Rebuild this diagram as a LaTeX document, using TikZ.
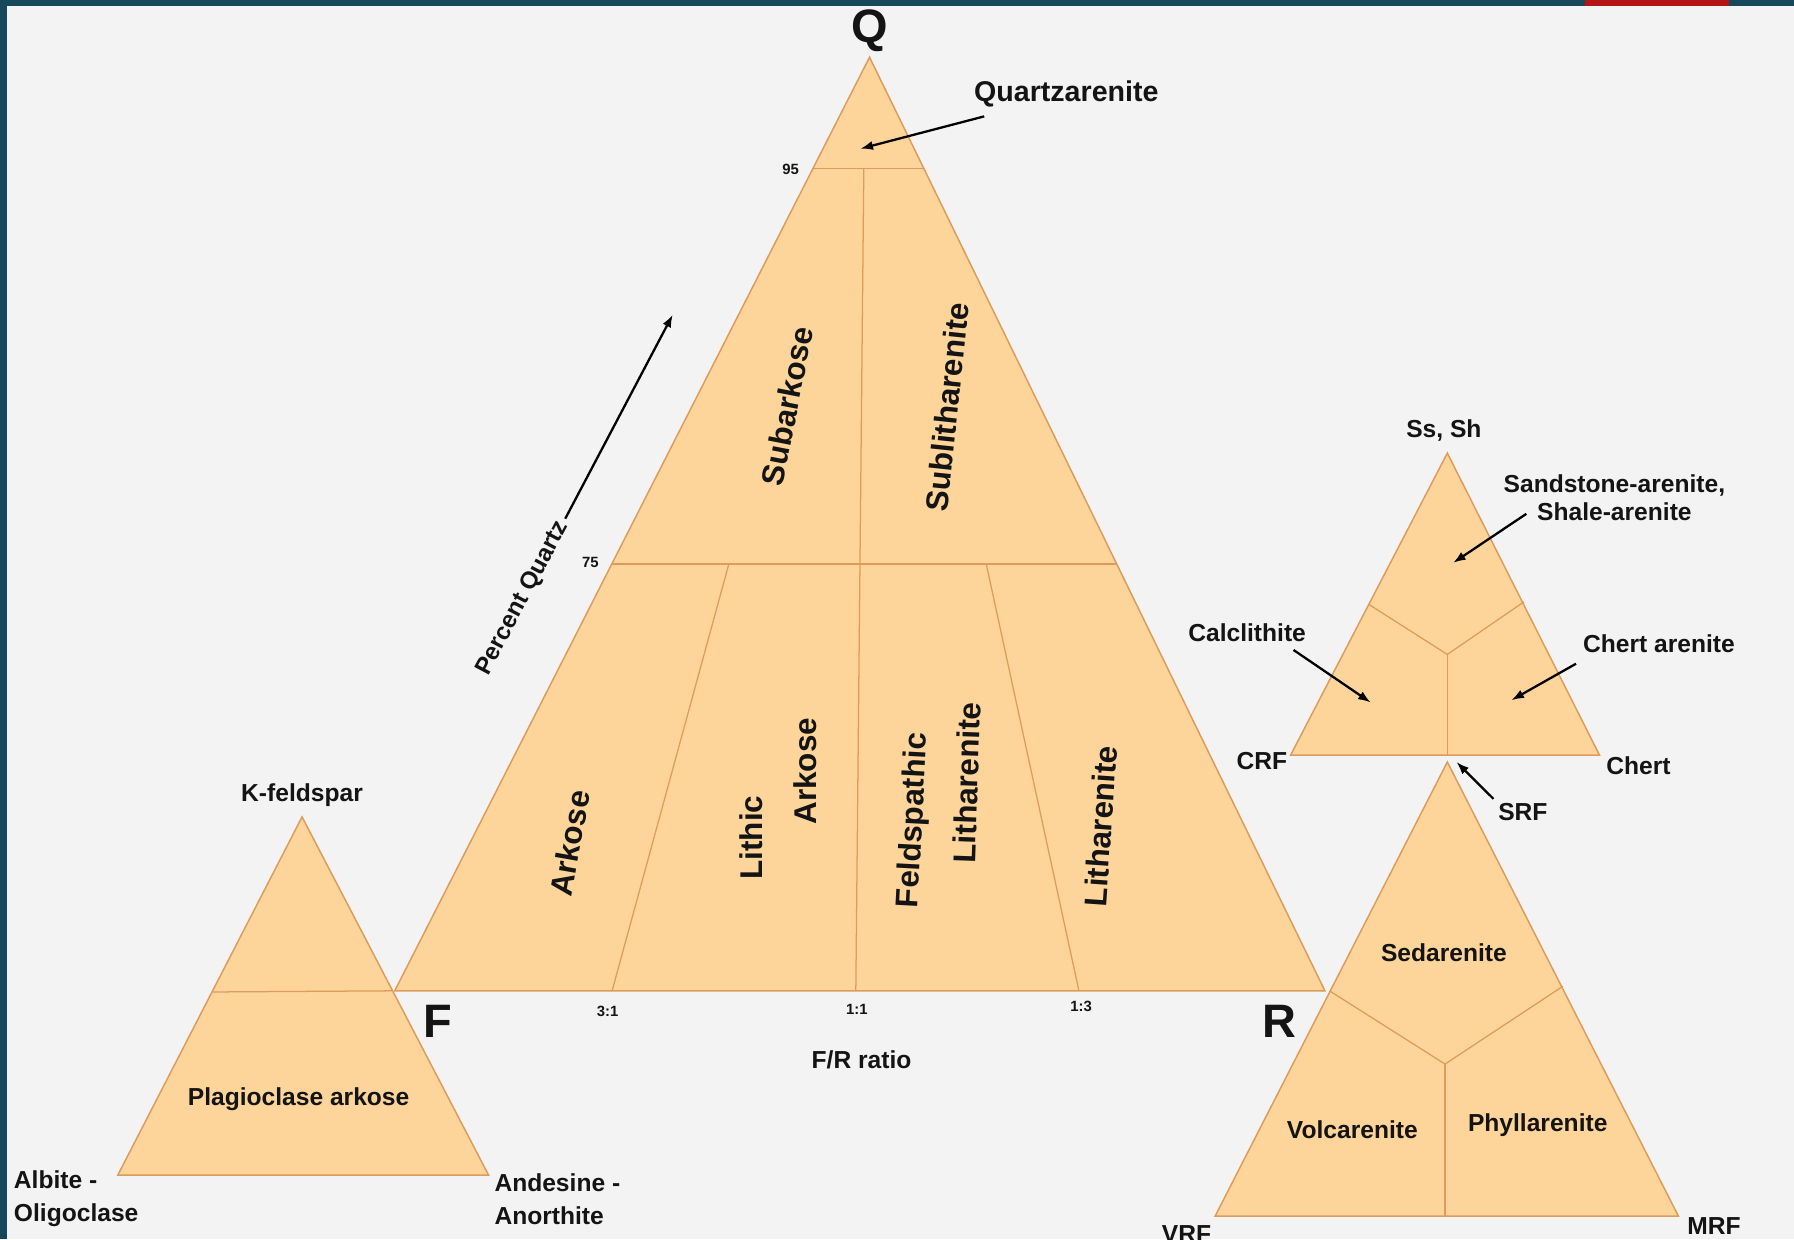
\documentclass[tikz,border=0pt]{standalone}
\usepackage{fontspec}
\setmainfont{Liberation Sans}
\usetikzlibrary{arrows.meta}
\definecolor{fillc}{HTML}{FDD59B}
\definecolor{edgec}{HTML}{DE9C5C}
\definecolor{bgc}{HTML}{F3F3F3}
\definecolor{bandc}{HTML}{17475A}
\definecolor{redc}{HTML}{B41414}
\definecolor{txt}{HTML}{141414}
\tikzset{
  tri/.style={fill=fillc, draw=edgec, line width=1.3pt, line join=miter},
  divline/.style={draw=edgec, line width=1.1pt},
  lab/.style={text=txt, inner sep=0pt, font=\bfseries\fontsize{21.5}{24}\selectfont},
  rlab/.style={text=txt, inner sep=0pt, font=\bfseries\fontsize{27.5}{30}\selectfont},
  corner/.style={text=txt, inner sep=0pt, font=\bfseries\fontsize{41}{44}\selectfont},
  tick/.style={text=txt, inner sep=0pt, font=\bfseries\fontsize{13}{15}\selectfont},
  pointer/.style={-{Latex[length=11pt,width=8pt]}, line width=2pt, draw=black},
}
\begin{document}
\begin{tikzpicture}[x=1pt,y=-1pt]
% background
\useasboundingbox (0,0) rectangle (1568,1083);
\fill[bgc] (0,0) rectangle (1568,1083);
\fill[bandc] (0,0) rectangle (6.5,1083);
\fill[bandc] (0,0) rectangle (1568,5);
\fill[redc] (1385,0) rectangle (1511,5);

% ---------- main QFR triangle ----------
\coordinate (Q) at (760,50);
\coordinate (F) at (345,866);
\coordinate (R) at (1158,866);
\fill[fillc] (Q) -- (F) -- (R) -- cycle;
\coordinate (l95) at (711,147);
\coordinate (r95) at (807,147);
\coordinate (l75) at (535,493);
\coordinate (r75) at (975,493);
\draw[divline] (l95) -- (r95);
\draw[divline] (l75) -- (r75);
\coordinate (m95) at (755,147);
\coordinate (m11) at (748,866);
\draw[divline] (m95) -- (m11);
\coordinate (a75) at (637,493);
\coordinate (a31) at (535,866);
\draw[divline] (a75) -- (a31);
\coordinate (b75) at (862,493);
\coordinate (b13) at (943,866);
\draw[divline] (b75) -- (b13);
\draw[tri, fill=none] (Q) -- (F) -- (R) -- cycle;

\node[corner] (nQ) at (760,27) {Q};
\node[corner] (nF) at (383,893) {F};
\node[corner] (nR) at (1118,893) {R};
\node[tick] (t95) at (691,148) {95};
\node[tick] (t75) at (516,492) {75};
\node[tick] (t31) at (531,884) {3:1};
\node[tick] (t11) at (749,882) {1:1};
\node[tick] (t13) at (945,880) {1:3};
\node[lab] (fr) at (753,926) {F/R ratio};

\node[rlab, rotate=79] (subark) at (688,355) {Subarkose};
\node[rlab, rotate=84] (sublith) at (828,356) {Sublitharenite};
\node[rlab, rotate=80] (ark) at (498,737) {Arkose};
\node[rlab, rotate=90] (lith) at (657,732) {Lithic};
\node[rlab, rotate=90] (ark2) at (704,674) {Arkose};
\node[rlab, rotate=87] (feld) at (799,717) {Feldspathic};
\node[rlab, rotate=88] (lith2) at (845,684) {Litharenite};
\node[rlab, rotate=86] (lith3) at (962,722) {Litharenite};

\node[lab, font=\bfseries\fontsize{25}{28}\selectfont] (qa) at (932,82) {Quartzarenite};
\coordinate (qtip) at (752,130);
\draw[pointer] ([xshift=9pt,yshift=-8pt]qa.south west) -- (qtip);

\node[text=txt, inner sep=0pt, font=\bfseries\fontsize{21}{24}\selectfont, rotate=62] (pq) at (457,523) {Percent Quartz};
\coordinate (pqtip) at (588,275);
\draw[pointer, shorten <=4pt] (pq.east) -- (pqtip);

% ---------- feldspar triangle ----------
\coordinate (K) at (264,714);
\coordinate (AO) at (103,1027);
\coordinate (AA) at (427,1027);
\fill[fillc] (K) -- (AO) -- (AA) -- cycle;
\coordinate (kl) at (186,867);
\coordinate (kr) at (343,866);
\draw[divline] (kl) -- (kr);
\draw[tri, fill=none] (K) -- (AO) -- (AA) -- cycle;
\node[lab] (kf) at (264,695) {K-feldspar};
\node[lab] (pa) at (261,961) {Plagioclase arkose};
\node[lab, align=left, anchor=west, font=\bfseries\fontsize{21.5}{29}\selectfont] (ao) at (12,1048) {Albite -\\Oligoclase};
\node[lab, align=left, anchor=west, font=\bfseries\fontsize{21.5}{29}\selectfont] (aa) at (432,1048) {Andesine -\\Anorthite};

% ---------- rock fragment triangle (upper) ----------
\coordinate (SS) at (1265,396);
\coordinate (CRF) at (1128,660);
\coordinate (CH) at (1398,660);
\coordinate (yc) at (1265,572);
\coordinate (yl) at (1196,528);
\coordinate (yr) at (1332,526);
\coordinate (yb) at (1265,660);
\fill[fillc] (SS) -- (CRF) -- (CH) -- cycle;
\draw[divline] (yl) -- (yc) -- (yr);
\draw[divline] (yc) -- (yb);
\draw[tri, fill=none] (SS) -- (CRF) -- (CH) -- cycle;
\node[lab] (ss) at (1262,376) {Ss, Sh};
\node[lab] (ncrf) at (1103,665) {CRF};
\node[lab] (nch) at (1432,669) {Chert};
\node[lab] (nsrf) at (1331,710) {SRF};
\node[lab, align=center, font=\bfseries\fontsize{21.5}{24}\selectfont] (sa) at (1411,435) {Sandstone-arenite,\\Shale-arenite};
\node[lab] (cal) at (1090,553) {Calclithite};
\node[lab] (cha) at (1450,563) {Chert arenite};
\coordinate (satip) at (1270,492);
\coordinate (caltip) at (1198,614);
\coordinate (chatip) at (1321,612);
\coordinate (srftip) at (1273,666);
\draw[pointer] ([xshift=20pt,yshift=6pt]sa.south west) -- (satip);
\draw[pointer] ([xshift=-11pt,yshift=-7pt]cal.south east) -- (caltip);
\draw[pointer] ([xshift=-6pt,yshift=-9pt]cha.south west) -- (chatip);
\draw[pointer] ([xshift=-4pt,yshift=4pt]nsrf.north west) -- (srftip);

% ---------- rock fragment triangle (lower) ----------
\coordinate (SRF) at (1265,666);
\coordinate (VRF) at (1062,1063);
\coordinate (MRF) at (1467,1063);
\coordinate (zc) at (1263,930);
\coordinate (zl) at (1162,866);
\coordinate (zr) at (1366,862);
\coordinate (zb) at (1263,1063);
\fill[fillc] (SRF) -- (VRF) -- (MRF) -- cycle;
\draw[divline] (zl) -- (zc) -- (zr);
\draw[divline] (zc) -- (zb);
\draw[tri, fill=none] (SRF) -- (VRF) -- (MRF) -- cycle;
\node[lab] (sed) at (1262,833) {Sedarenite};
\node[lab] (vol) at (1182,987) {Volcarenite};
\node[lab] (phy) at (1344,983) {Phyllarenite};
\node[lab] (nvrf) at (1037,1079) {VRF};
\node[lab] (nmrf) at (1498,1072) {MRF};
\end{tikzpicture}
\end{document}
